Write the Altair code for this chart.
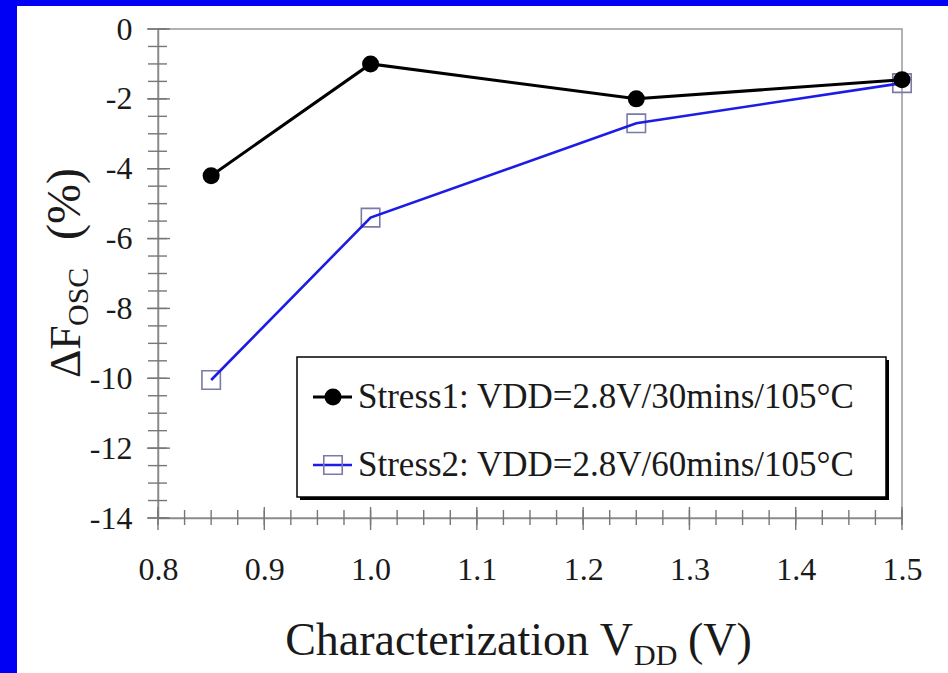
import altair as alt
import pandas as pd

# Oscillator frequency shift vs. characterization supply voltage
vdd = [0.85, 1.0, 1.25, 1.5]
stress1 = [-4.2, -1.0, -2.0, -1.45]
stress2 = [-10.05, -5.4, -2.7, -1.55]
series_labels = [
    "Stress1: VDD=2.8V/30mins/105°C",
    "Stress2: VDD=2.8V/60mins/105°C",
]

x_labels = [0.8, 0.9, 1.0, 1.1, 1.2, 1.3, 1.4, 1.5]
y_labels = [0, -2, -4, -6, -8, -10, -12, -14]
x_minor = [round(0.8 + 0.025 * i, 3) for i in range(29)]
y_minor = [-0.5 * i for i in range(29)]

W, H = 744, 489
FONT = "Liberation Serif"
BLUE_LINE = "#1c1ce6"
SQUARE = "#7a7aa8"
TEXT = "#1a1a1a"

s1 = pd.DataFrame({"vdd": vdd, "dF": stress1})
s2 = pd.DataFrame({"vdd": vdd, "dF": stress2})

xs = alt.Scale(domain=[0.8, 1.5], nice=False, zero=False)
ys = alt.Scale(domain=[-14, 0], nice=False, zero=False)

one = pd.DataFrame({"k": [0]})

# Blue strips on the left and top edges of the page
frame_left = alt.Chart(one).mark_rect(color="#0000f5").encode(
    x=alt.value(-158), x2=alt.value(-141), y=alt.value(-29), y2=alt.value(H + 155)
)
frame_top = alt.Chart(one).mark_rect(color="#0000f5").encode(
    x=alt.value(-158), x2=alt.value(W + 46), y=alt.value(-29), y2=alt.value(-23)
)

# Axes carrying the tick labels
base = alt.Chart(s1).mark_point(opacity=0).encode(
    x=alt.X("vdd:Q", scale=xs, axis=alt.Axis(
        values=x_labels, labelExpr="format(datum.value, '.1f')", title=None,
        ticks=False, grid=False, labelFont=FONT, labelFontSize=32, labelColor=TEXT,
        labelPadding=36, domainColor="#8a8a8a", domainWidth=1.5, labelFlush=False)),
    y=alt.Y("dF:Q", scale=ys, axis=alt.Axis(
        values=y_labels, labelExpr="'' + datum.value", title=None,
        ticks=False, grid=False, labelFont=FONT, labelFontSize=32, labelColor=TEXT,
        labelPadding=26, domainColor="#8a8a8a", domainWidth=1.5, labelFlush=False)),
)

# Ticks crossing the axis lines
tick_style = dict(color="#777", strokeWidth=1.4)
y_minor_t = alt.Chart(pd.DataFrame({"v": y_minor})).mark_rule(**tick_style).encode(
    y=alt.Y("v:Q", scale=ys), x=alt.value(-10), x2=alt.value(9))
y_major_t = alt.Chart(pd.DataFrame({"v": y_labels})).mark_rule(**tick_style).encode(
    y=alt.Y("v:Q", scale=ys), x=alt.value(-11), x2=alt.value(12))
x_minor_t = alt.Chart(pd.DataFrame({"v": x_minor})).mark_rule(**tick_style).encode(
    x=alt.X("v:Q", scale=xs), y=alt.value(H - 8), y2=alt.value(H + 7))
x_major_t = alt.Chart(pd.DataFrame({"v": x_labels})).mark_rule(**tick_style).encode(
    x=alt.X("v:Q", scale=xs), y=alt.value(H - 11), y2=alt.value(H + 12))

# Series 2: blue line with open squares
sq2 = alt.Chart(s2).mark_point(shape="square", size=340, filled=False,
                               color=SQUARE, strokeWidth=1.6, opacity=1).encode(
    x=alt.X("vdd:Q", scale=xs), y=alt.Y("dF:Q", scale=ys))
line2 = alt.Chart(s2).mark_line(color=BLUE_LINE, strokeWidth=2.6).encode(
    x=alt.X("vdd:Q", scale=xs), y=alt.Y("dF:Q", scale=ys))

# Series 1: black line with filled circles
line1 = alt.Chart(s1).mark_line(color="black", strokeWidth=3).encode(
    x=alt.X("vdd:Q", scale=xs), y=alt.Y("dF:Q", scale=ys))
pt1 = alt.Chart(s1).mark_circle(size=290, color="black", opacity=1).encode(
    x=alt.X("vdd:Q", scale=xs), y=alt.Y("dF:Q", scale=ys))

# Legend box with drop shadow
lx0, lx1, ly0, ly1 = 139, 728, 328, 468
shadow = alt.Chart(one).mark_rect(color="black").encode(
    x=alt.value(lx0 + 3), x2=alt.value(lx1 + 3), y=alt.value(ly0 + 3), y2=alt.value(ly1 + 3))
box = alt.Chart(one).mark_rect(fill="white", stroke="black", strokeWidth=1.5).encode(
    x=alt.value(lx0), x2=alt.value(lx1), y=alt.value(ly0), y2=alt.value(ly1))
r1, r2 = 368, 436
leg_line1 = alt.Chart(one).mark_rule(color="black", strokeWidth=3).encode(
    x=alt.value(155), x2=alt.value(194), y=alt.value(r1))
leg_pt1 = alt.Chart(one).mark_circle(size=290, color="black", opacity=1).encode(
    x=alt.value(175), y=alt.value(r1))
leg_sq2 = alt.Chart(one).mark_point(shape="square", size=340, filled=False, color=SQUARE,
                                    strokeWidth=1.6, opacity=1).encode(
    x=alt.value(175), y=alt.value(r2))
leg_line2 = alt.Chart(one).mark_rule(color=BLUE_LINE, strokeWidth=2.6).encode(
    x=alt.value(155), x2=alt.value(194), y=alt.value(r2))
leg_txt1 = alt.Chart(pd.DataFrame({"t": [series_labels[0]]})).mark_text(
    font=FONT, fontSize=35, align="left", baseline="middle", color=TEXT).encode(
    text="t:N", x=alt.value(200), y=alt.value(r1))
leg_txt2 = alt.Chart(pd.DataFrame({"t": [series_labels[1]]})).mark_text(
    font=FONT, fontSize=35, align="left", baseline="middle", color=TEXT).encode(
    text="t:N", x=alt.value(200), y=alt.value(r2))


# Axis titles with subscripts
def txt(s, x, y, size, align="left", angle=0):
    kw = dict(font=FONT, fontSize=size, align=align, baseline="alphabetic", color=TEXT)
    if angle:
        kw["angle"] = angle
    return alt.Chart(pd.DataFrame({"t": [s]})).mark_text(**kw).encode(
        text="t:N", x=alt.value(x), y=alt.value(y))


xt_main = txt("Characterization V", 475, 626, 46, align="right")
xt_sub = txt("DD", 476, 636, 30)
xt_unit = txt("(V)", 530, 626, 46)
yt_main = txt("ΔF", -78, 349, 44, angle=270)
yt_sub = txt("OSC", -70, 297, 30, angle=270)
yt_unit = txt("(%)", -78, 211, 48, angle=270)

chart = alt.layer(
    frame_left, frame_top, base,
    y_minor_t, y_major_t, x_minor_t, x_major_t,
    sq2, line2, line1, pt1,
    shadow, box, leg_line1, leg_pt1, leg_line2, leg_sq2, leg_txt1, leg_txt2,
    xt_main, xt_sub, xt_unit, yt_main, yt_sub, yt_unit,
).properties(
    width=W, height=H,
    autosize=alt.AutoSizeParams(type="none"),
    padding={"left": 158, "top": 29, "right": 46, "bottom": 155},
    background="white",
).configure_view(stroke="#999", strokeWidth=1.5).configure_axis(labelFont=FONT)

chart.save("out.html", embed_options={"renderer": "svg", "actions": False})
